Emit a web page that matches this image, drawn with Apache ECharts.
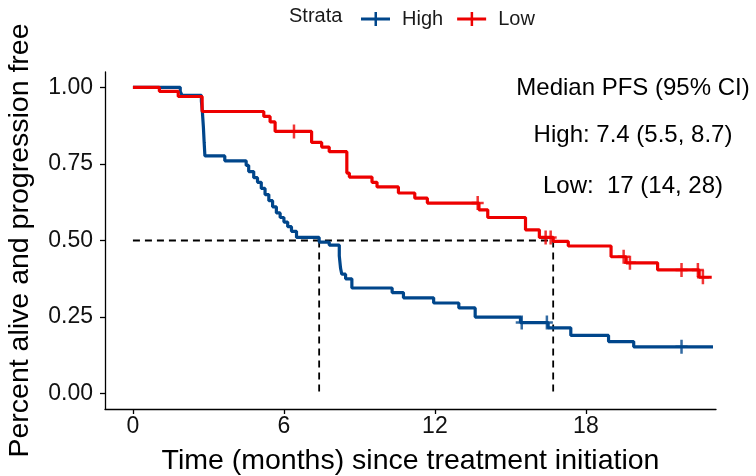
<!DOCTYPE html>
<html>
<head>
<meta charset="utf-8">
<script src="https://cdn.jsdelivr.net/npm/echarts@6/dist/echarts.min.js"></script>
<style>
  html, body { margin: 0; padding: 0; background: #fff; }
  #chart { width: 756px; height: 476px; }
</style>
</head>
<body>
<div id="chart"></div>
<script>
// Kaplan-Meier progression-free survival by strata
const strataNames = ['High', 'Low'];
const strataColors = ['#00468B', '#ED0000'];

// High stratum: event times (months) and survival after each event
const highTimes = [0, 1.88, 1.95, 2.72, 2.76, 2.8, 2.83, 2.86, 3.65, 4.5, 4.6, 4.8, 4.95, 5.1, 5.25, 5.4, 5.55, 5.7, 5.85, 6.0, 6.15, 6.3, 6.5, 7.4, 7.8, 8.2, 8.25, 8.3, 8.45, 8.7, 10.3, 10.75, 11.95, 12.95, 13.6, 15.4, 16.5, 17.4, 18.9, 19.9];
const highSurv  = [1.0, 0.987, 0.974, 0.955, 0.92, 0.87, 0.82, 0.776, 0.76, 0.745, 0.725, 0.705, 0.69, 0.67, 0.65, 0.63, 0.61, 0.59, 0.575, 0.56, 0.545, 0.53, 0.51, 0.495, 0.485, 0.45, 0.41, 0.39, 0.375, 0.345, 0.33, 0.313, 0.296, 0.28, 0.25, 0.232, 0.215, 0.19, 0.17, 0.153];
const highCensor = [15.45, 16.45, 21.8];
const highEnd = 23.05;

// Low stratum
const lowTimes = [0, 1.05, 1.8, 2.75, 5.2, 5.45, 5.65, 7.1, 7.5, 7.8, 8.5, 8.6, 9.5, 9.7, 10.55, 11.2, 11.7, 13.75, 14.1, 15.6, 16.15, 16.7, 17.3, 19.0, 19.6, 20.85, 22.5];
const lowSurv  = [1.0, 0.987, 0.97, 0.921, 0.905, 0.887, 0.856, 0.82, 0.805, 0.79, 0.72, 0.707, 0.69, 0.675, 0.655, 0.638, 0.622, 0.60, 0.575, 0.535, 0.51, 0.497, 0.482, 0.447, 0.427, 0.404, 0.38];
const lowCensor = [6.4, 13.7, 16.4, 16.6, 19.5, 19.75, 21.8, 22.45, 22.65];
const lowEnd = 23.0;

// Medians with 95% CI
const medianHigh = [7.4, 5.5, 8.7];
const medianLow = [16.7, 14, 28];

const xTicks = [0, 6, 12, 18];
const yTicks = [0, 0.25, 0.5, 0.75, 1];

function curve(times, surv, end) {
  const pts = times.map((t, i) => [t, surv[i]]);
  pts.push([end, surv[surv.length - 1]]);
  return pts;
}
function survAt(times, surv, t) {
  let s = surv[0];
  for (let i = 0; i < times.length; i++) { if (times[i] <= t) s = surv[i]; }
  return s;
}
function censorPts(times, surv, cens) {
  return cens.map(c => [c, survAt(times, surv, c)]);
}
function fmt(v) { return Number(v.toPrecision(2)).toString(); }

const FONT = '"Liberation Sans", Arial, Helvetica, sans-serif';
const plusSymbol = 'path://M4.75,0 h2.5 v5.75 h4.75 v2.5 h-4.75 v5.75 h-2.5 v-5.75 h-4.75 v-2.5 h4.75 z';
const legendIcon = 'path://M0,5.5 h29 v3 h-29 z M13.5,0 h2.5 v14 h-2.5 z';

const chart = echarts.init(document.getElementById('chart'), null, { renderer: 'canvas' });

const dashStyle = { color: '#000', width: 1.8, type: [7, 5] };
function guide(name, pts) {
  return { name, type: 'line', data: pts, symbol: 'none', lineStyle: dashStyle, z: 1, silent: true, animation: false };
}

chart.setOption({
  animation: false,
  backgroundColor: '#fff',
  textStyle: { fontFamily: FONT },
  grid: { left: 105, right: 40, top: 72, bottom: 67, containLabel: false, outerBoundsMode: 'none' },
  legend: {
    data: strataNames.map((n, i) => ({ name: n, icon: legendIcon, itemStyle: { color: strataColors[i] } })),
    left: 356, top: 4,
    itemWidth: 29, itemHeight: 14, itemGap: 14,
    selectedMode: false,
    textStyle: { fontSize: 20, color: '#1a1a1a', fontFamily: FONT, padding: [0, 0, 0, 7] }
  },
  xAxis: {
    type: 'value', min: -1.11, max: 23.17,
    name: 'Time (months) since treatment initiation',
    nameLocation: 'middle', nameGap: 38,
    nameTextStyle: { fontSize: 28.5, color: '#000', fontFamily: FONT },
    splitLine: { show: false },
    axisLine: { show: true, onZero: false, lineStyle: { color: '#000', width: 1.3 } },
    axisTick: { show: true, customValues: xTicks, length: 5, lineStyle: { color: '#000', width: 1.3 } },
    axisLabel: { customValues: xTicks, fontSize: 23, color: '#111', margin: 6, fontFamily: FONT }
  },
  yAxis: {
    type: 'value', min: -0.05, max: 1.05,
    name: 'Percent alive and progression free',
    nameLocation: 'middle', nameGap: 70,
    nameTextStyle: { fontSize: 28.5, color: '#000', fontFamily: FONT },
    splitLine: { show: false },
    axisLine: { show: true, onZero: false, lineStyle: { color: '#000', width: 1.3 } },
    axisTick: { show: true, customValues: yTicks, length: 5, lineStyle: { color: '#000', width: 1.3 } },
    axisLabel: { customValues: yTicks, fontSize: 23, color: '#111', margin: 12, fontFamily: FONT,
      formatter: v => v.toFixed(2) }
  },
  graphic: [
    { type: 'text', left: 289, top: 6, style: { text: 'Strata', fontSize: 20, fill: '#1a1a1a', fontFamily: FONT } },
    { type: 'text', x: 633, y: 88, style: { text: 'Median PFS (95% CI)', fontSize: 24, fill: '#000', fontFamily: FONT, align: 'center', verticalAlign: 'middle' } },
    { type: 'text', x: 633, y: 135, style: { text: 'High: ' + fmt(medianHigh[0]) + ' (' + fmt(medianHigh[1]) + ', ' + fmt(medianHigh[2]) + ')', fontSize: 24, fill: '#000', fontFamily: FONT, align: 'center', verticalAlign: 'middle' } },
    { type: 'text', x: 633, y: 186, style: { text: 'Low:  ' + fmt(medianLow[0]) + ' (' + fmt(medianLow[1]) + ', ' + fmt(medianLow[2]) + ')', fontSize: 24, fill: '#000', fontFamily: FONT, align: 'center', verticalAlign: 'middle' } }
  ],
  series: [
    guide('guide-h', [[0, 0.5], [medianLow[0], 0.5]]),
    guide('guide-v1', [[medianHigh[0], 0.5], [medianHigh[0], 0]]),
    guide('guide-v2', [[medianLow[0], 0.5], [medianLow[0], 0]]),
    {
      name: 'High', type: 'line', step: 'end', data: curve(highTimes, highSurv, highEnd),
      symbol: 'none', lineStyle: { color: strataColors[0], width: 3.2 }, itemStyle: { color: strataColors[0] }, z: 3
    },
    {
      name: 'Low', type: 'line', step: 'end', data: curve(lowTimes, lowSurv, lowEnd),
      symbol: 'none', lineStyle: { color: strataColors[1], width: 3.2 }, itemStyle: { color: strataColors[1] }, z: 4
    },
    {
      name: 'High-censor', type: 'scatter', data: censorPts(highTimes, highSurv, highCensor),
      symbol: plusSymbol, symbolSize: [12, 14], itemStyle: { color: strataColors[0] }, z: 5
    },
    {
      name: 'Low-censor', type: 'scatter', data: censorPts(lowTimes, lowSurv, lowCensor),
      symbol: plusSymbol, symbolSize: [12, 14], itemStyle: { color: strataColors[1] }, z: 6
    }
  ]
});
</script>
</body>
</html>
